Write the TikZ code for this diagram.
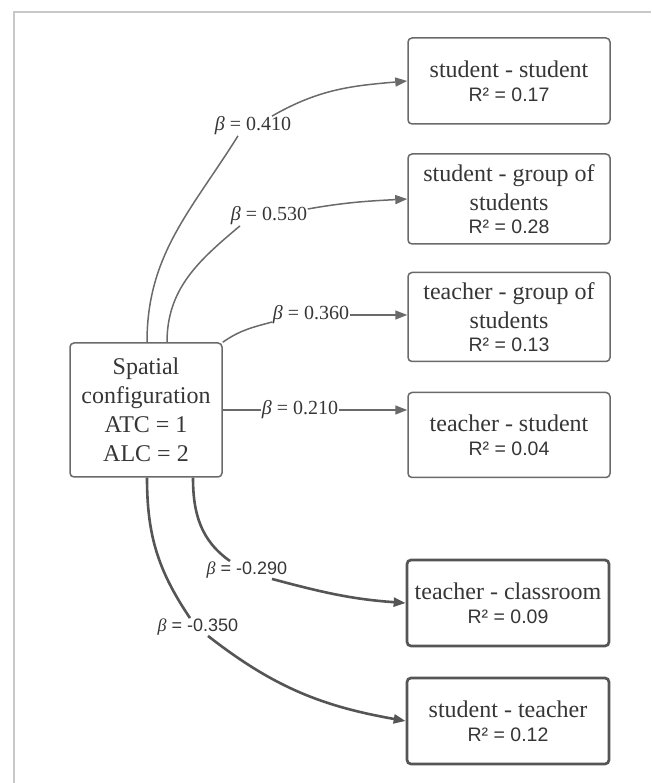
\documentclass[tikz,border=0pt]{standalone}
\usepackage{fontspec}
\setmainfont{Liberation Serif}
\setsansfont{Liberation Sans}
\usetikzlibrary{arrows.meta}
\definecolor{linec}{HTML}{6A6A6A}
\definecolor{linecb}{HTML}{555555}
\definecolor{txtc}{HTML}{363636}
\definecolor{framec}{HTML}{C8C8C8}
\newcommand{\rsq}[1]{{\sffamily\fontsize{19.5}{22}\selectfont R² = #1}}
\newcommand{\betalbl}{{\rmfamily\itshape β}}

\begin{document}
\begin{tikzpicture}[x=1pt, y=1pt,
		box/.style={draw=linec, line width=1.5pt, rounded corners=4pt, fill=white, text=txtc, align=center, minimum width=202pt, inner sep=2pt, font=\rmfamily\fontsize{24}{29}\selectfont},
		boxb/.style={box, draw=linecb, line width=2.7pt},
		lbl/.style={inner sep=0.5pt, text=txtc, font=\rmfamily\fontsize{20}{24}\selectfont},
		lbls/.style={lbl, font=\sffamily\fontsize{18}{22}\selectfont},
		conn/.style={draw=linec, line width=1.5pt},
		connb/.style={draw=linecb, line width=2.6pt},
		arr/.style={-{Triangle[length=12pt, width=9pt]}}]
		\useasboundingbox ( 0, 0 ) rectangle ( 651, 783 );

		% рамка
		\draw [framec, line width=1.2pt] ( 14, 0 ) -- ( 14, 771 ) -- ( 651, 771 );

		% исходный блок
		\node [box, minimum width=152pt, minimum height=134pt] (src) at ( 146, 373 )	{ Spatial\\configuration\\ATC = 1\\ALC = 2 };

		% блоки результатов
		\node [box, minimum height=86pt] (ss) at ( 509, 702 )	{ student - student\\[-5pt]\rsq{0.17} };
		\node [box, minimum height=90pt] (sg) at ( 509, 584 )	{ student - group of\\students\\[-6pt]\rsq{0.28} };
		\node [box, minimum height=89pt] (tg) at ( 509, 466 )	{ teacher - group of\\students\\[-6pt]\rsq{0.13} };
		\node [box, minimum height=85pt] (ts) at ( 509, 348 )	{ teacher - student\\[-5pt]\rsq{0.04} };
		\node [boxb, minimum height=86pt] (tc) at ( 508, 180 )	{ teacher - classroom\\[-5pt]\rsq{0.09} };
		\node [boxb, minimum height=86pt] (st) at ( 508, 62 )	{ student - teacher\\[-5pt]\rsq{0.12} };

		% подписи
		\node [lbl] (l1) at ( 253, 657 )	{\betalbl{} = 0.410};
		\node [lbl] (l2) at ( 269, 567 )	{\betalbl{} = 0.530};
		\node [lbl] (l3) at ( 311, 468 )	{\betalbl{} = 0.360};
		\node [lbl] (l4) at ( 300, 373 )	{\betalbl{} = 0.210};
		\node [lbls] (l5) at ( 247, 213 )	{\betalbl{} = -0.290};
		\node [lbls] (l6) at ( 198, 156 )	{\betalbl{} = -0.350};

		% связи
		\draw [conn] ([xshift=1pt]src.north) to [out=90, in=-122] ([xshift=-15pt]l1.south);
		\draw [conn, arr] ([xshift=19pt]l1.north) to [out=30, in=185] (ss.west);
		\draw [conn] ([xshift=21pt]src.north) to [out=90, in=-140] ([xshift=-29pt]l2.south);
		\draw [conn, arr] ([yshift=7pt]l2.east) to [out=10, in=183] (sg.west);
		\draw [conn] (src.north east) to [out=35, in=195] ([yshift=-7pt]l3.west);
		\draw [conn, arr] (l3.east) -- (l3.east -| tg.west);
		\draw [conn] (src.east) -- (l4.west);
		\draw [conn, arr] (l4.east) -- (l4.east -| ts.west);
		\draw [connb] ([xshift=47pt]src.south) to [out=-90, in=145] ([xshift=-17pt]l5.north);
		\draw [connb, arr] ([xshift=25pt]l5.south) to [out=-15, in=176] (tc.west);
		\draw [connb] ([xshift=1pt]src.south) to [out=-90, in=124] ([xshift=-8pt]l6.north);
		\draw [connb, arr] ([xshift=10pt]l6.south) to [out=-38, in=170] (st.west);
\end{tikzpicture}
\end{document}
